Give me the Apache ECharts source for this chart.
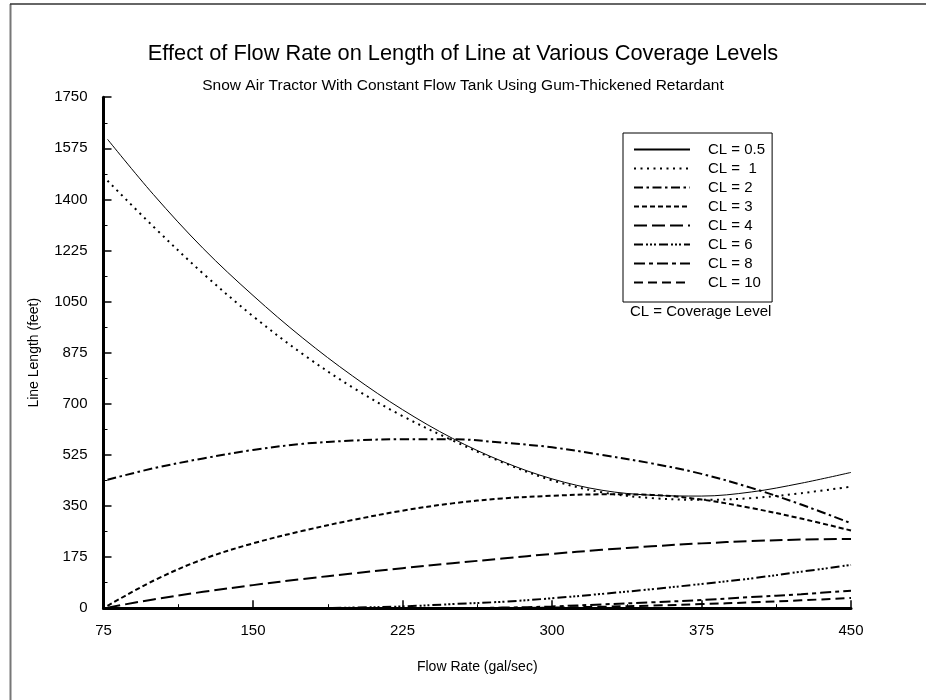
<!DOCTYPE html>
<html>
<head>
<meta charset="utf-8">
<script src="https://cdn.jsdelivr.net/npm/echarts@6/dist/echarts.min.js"></script>
<style>
html,body{margin:0;padding:0;background:#fff;}
#chart{width:926px;height:700px;}
</style>
</head>
<body>
<div id="chart"></div>
<script>
const flowRates = [77, 100, 125, 150, 175, 200, 225, 250, 275, 300, 325, 350, 375, 400, 425, 450];
const cl05 = [1606, 1417, 1232, 1071, 925, 795, 680, 582, 503, 443, 404, 387, 384, 398, 428, 465];
const cl1  = [1464, 1307, 1146, 1000, 870, 756, 658, 575, 500, 438, 397, 377, 371, 377, 394, 416];
const cl2  = [440, 479, 513, 542, 563, 574, 579, 579, 567, 551, 525, 496, 460, 412, 355, 291];
const cl3  = [8, 94, 168, 222, 265, 302, 334, 359, 376, 385, 390, 388, 372, 343, 307, 266];
const cl4  = [2, 30, 56, 79, 100, 119, 137, 154, 170, 186, 200, 212, 222, 230, 235, 237];
const cl6  = [0, 0, 0, 0, 0, 2, 6, 14, 22, 34, 49, 65, 83, 102, 125, 148];
const cl8  = [0, 0, 0, 0, 0, 0, 0, 0, 2, 6, 13, 20, 28, 38, 48, 60];
const cl10 = [0, 0, 0, 0, 0, 0, 0, 0, 0, 2, 5, 9, 14, 20, 27, 35];
const seriesNames = ['CL = 0.5', 'CL =  1', 'CL = 2', 'CL = 3', 'CL = 4', 'CL = 6', 'CL = 8', 'CL = 10'];
const seriesValues = [cl05, cl1, cl2, cl3, cl4, cl6, cl8, cl10];
const xTicks = [75, 150, 225, 300, 375, 450];
const yTicks = [0, 175, 350, 525, 700, 875, 1050, 1225, 1400, 1575, 1750];
const titleText = 'Effect of Flow Rate on Length of Line at Various Coverage Levels';
const subText = 'Snow Air Tractor With Constant Flow Tank Using Gum-Thickened Retardant';
const xName = 'Flow Rate (gal/sec)';
const yName = 'Line Length (feet)';
const noteText = 'CL = Coverage Level';

const styles = [
  {width: 1, type: 'solid'},
  {width: 2, type: [2, 4.5]},
  {width: 2, type: [9, 3.5, 2.5, 3.5]},
  {width: 2, type: [5, 3]},
  {width: 2, type: [13, 5]},
  {width: 2, type: [9, 3, 2, 2, 2, 2, 2, 3]},
  {width: 2, type: [11, 4, 4, 4]},
  {width: 2, type: [9, 5]}
];

const FONT = '"Liberation Sans", Arial, sans-serif';
const chart = echarts.init(document.getElementById('chart'), null, {renderer: 'canvas'});

const series = seriesNames.map((name, i) => ({
  name: name,
  type: 'line',
  smooth: 0.35,
  symbol: 'none',
  clip: true,
  z: 3,
  lineStyle: {color: '#000', width: styles[i].width, type: styles[i].type, cap: 'butt'},
  itemStyle: {color: '#000'},
  data: flowRates.map((x, j) => [x, seriesValues[i][j]])
}));

chart.setOption({
  animation: false,
  backgroundColor: '#fff',
  textStyle: {fontFamily: FONT, color: '#000'},
  title: [
    {text: titleText, left: 'center', top: 38, textStyle: {fontFamily: FONT, fontSize: 21.8, fontWeight: 'normal', color: '#000'}},
    {text: subText, left: 'center', top: 73, textStyle: {fontFamily: FONT, fontSize: 15.5, fontWeight: 'normal', color: '#000'}}
  ],
  grid: {left: 103.5, top: 97.2, width: 747.5, height: 511, containLabel: false},
  legend: {
    orient: 'vertical',
    left: 623,
    top: 133,
    padding: [9, 7, 12, 10],
    backgroundColor: '#fff',
    borderColor: '#000',
    borderWidth: 1,
    itemWidth: 56,
    itemHeight: 14,
    itemGap: 4,
    selectedMode: false,
    itemStyle: {color: 'rgba(0,0,0,0)', borderWidth: 0, opacity: 0},
    textStyle: {fontFamily: FONT, fontSize: 15, color: '#000', padding: [0, 0, 0, 13]},
    data: seriesNames.map((n, i) => ({name: n, lineStyle: {width: 2}}))
  },
  xAxis: {
    type: 'value',
    min: 75, max: 450, interval: 75,
    name: xName, nameLocation: 'middle', nameGap: 52,
    nameTextStyle: {fontFamily: FONT, fontSize: 14, color: '#000'},
    axisLine: {show: true, onZero: false, lineStyle: {color: '#000', width: 3}},
    axisTick: {show: true, inside: true, length: 8, lineStyle: {color: '#000', width: 1.5}},
    minorTick: {show: true, splitNumber: 2, length: 4, lineStyle: {color: '#000', width: 1}},
    axisLabel: {fontFamily: FONT, fontSize: 15, color: '#000', margin: 15},
    splitLine: {show: false}
  },
  yAxis: {
    type: 'value',
    min: 0, max: 1750, interval: 175,
    name: yName, nameLocation: 'middle', nameGap: 62,
    nameTextStyle: {fontFamily: FONT, fontSize: 14, color: '#000'},
    axisLine: {show: true, onZero: false, lineStyle: {color: '#000', width: 3}},
    axisTick: {show: true, inside: true, length: 8, lineStyle: {color: '#000', width: 1.5}},
    minorTick: {show: true, splitNumber: 2, length: 4, lineStyle: {color: '#000', width: 1}},
    axisLabel: {fontFamily: FONT, fontSize: 15, color: '#000', margin: 16, formatter: v => String(v)},
    splitLine: {show: false}
  },
  graphic: [
    {type: 'line', shape: {x1: 10.5, y1: 4, x2: 10.5, y2: 700}, style: {stroke: '#777', lineWidth: 2}, silent: true},
    {type: 'line', shape: {x1: 10, y1: 4, x2: 926, y2: 4}, style: {stroke: '#333', lineWidth: 1.5}, silent: true},
    {type: 'text', left: 630, top: 304, style: {text: noteText, font: '15px ' + FONT, fill: '#000'}, silent: true}
  ],
  series: series
});
</script>
</body>
</html>
